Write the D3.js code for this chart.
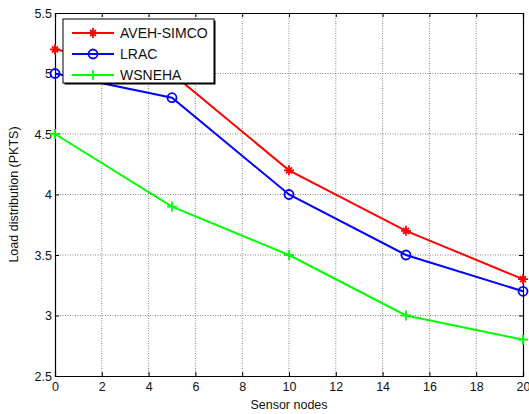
<!DOCTYPE html>
<html>
<head>
<meta charset="utf-8">
<script src="https://cdn.jsdelivr.net/npm/d3@7"></script>
<style>
body { margin: 0; background: #fff; }
svg { font-family: "Liberation Sans", Arial, sans-serif; }
</style>
</head>
<body>
<script>
// data
var nodes = [0, 5, 10, 15, 20]
var aveh = [5.2, 5.0, 4.2, 3.7, 3.3]
var lrac = [5.0, 4.8, 4.0, 3.5, 3.2]
var wsneha = [4.5, 3.9, 3.5, 3.0, 2.8]
var xTicks = [0, 2, 4, 6, 8, 10, 12, 14, 16, 18, 20]
var yTicks = [2.5, 3, 3.5, 4, 4.5, 5, 5.5]

var series = [
    {name: 'AVEH-SIMCO', values: aveh, color: '#ff0000', marker: 'star'},
    {name: 'LRAC', values: lrac, color: '#0000ff', marker: 'circle'},
    {name: 'WSNEHA', values: wsneha, color: '#00ff00', marker: 'plus'},
]

var config = {width: 529, height: 414}
var margin = {left: 55, right: 6, top: 13, bottom: 38}
var w = config.width - margin.left - margin.right
var h = config.height - margin.top - margin.bottom

var svg = d3.select('body').append('svg')
    .attr('width', config.width)
    .attr('height', config.height)

var g = svg.append('g').attr('transform', 'translate(' + margin.left + ',' + margin.top + ')')

var x = d3.scaleLinear().domain([0, 20]).range([0, w])
var y = d3.scaleLinear().domain([2.5, 5.5]).range([h, 0])

// grid (dotted, matlab style)
g.append('g').selectAll('line').data(xTicks.slice(1, -1)).enter().append('line')
    .attr('x1', function(d) { return x(d) }).attr('x2', function(d) { return x(d) })
    .attr('y1', 0).attr('y2', h)
    .attr('stroke', '#777').attr('stroke-width', 0.9).attr('stroke-dasharray', '1,1.5')
g.append('g').selectAll('line').data(yTicks.slice(1, -1)).enter().append('line')
    .attr('y1', function(d) { return y(d) }).attr('y2', function(d) { return y(d) })
    .attr('x1', 0).attr('x2', w)
    .attr('stroke', '#777').attr('stroke-width', 0.9).attr('stroke-dasharray', '1,1.5')

// axes
g.append('g').attr('transform', 'translate(0,' + h + ')')
    .call(d3.axisBottom(x).tickValues(xTicks).tickSize(-4).tickPadding(6).tickFormat(d3.format('d')))
g.append('g')
    .call(d3.axisLeft(y).tickValues(yTicks).tickSize(-4).tickPadding(3).tickFormat(function(d) { return d }))
g.append('g')
    .call(d3.axisTop(x).tickValues(xTicks).tickSize(-4).tickFormat(''))
g.append('g').attr('transform', 'translate(' + w + ',0)')
    .call(d3.axisRight(y).tickValues(yTicks).tickSize(-4).tickFormat(''))

g.selectAll('.domain').attr('stroke', '#000').attr('stroke-width', 1.2)
g.selectAll('.tick line').attr('stroke', '#000')
g.selectAll('.tick text').attr('font-size', 12.5).attr('fill', '#111')
    .attr('font-family', '"Liberation Sans", Arial, sans-serif')

// lines
var line = d3.line()
    .x(function(d, i) { return x(nodes[i]) })
    .y(function(d) { return y(d) })

function drawMarker(sel, type, color) {
    if (type == 'circle') {
        sel.append('circle').attr('r', 4.5).attr('fill', 'none')
            .attr('stroke', color).attr('stroke-width', 1.8)
    } else if (type == 'plus') {
        sel.append('path').attr('d', 'M-5,0H5M0,-5V5')
            .attr('stroke', color).attr('stroke-width', 1.8)
    } else {
        sel.append('path').attr('d', 'M-5,0H5M0,-5V5M-3,-3L3,3M-3,3L3,-3')
            .attr('stroke', color).attr('stroke-width', 1.8)
    }
}

series.forEach(function(s) {
    g.append('path').datum(s.values)
        .attr('d', line)
        .attr('fill', 'none')
        .attr('stroke', s.color)
        .attr('stroke-width', 2)
    s.values.forEach(function(v, i) {
        var m = g.append('g').attr('transform', 'translate(' + x(nodes[i]) + ',' + y(v) + ')')
        drawMarker(m, s.marker, s.color)
    })
})

// legend
var leg = svg.append('g').attr('transform', 'translate(63,19)')
leg.append('rect').attr('x', 1.5).attr('y', 1.5).attr('width', 151).attr('height', 64).attr('fill', '#000')
leg.append('rect').attr('width', 151).attr('height', 64)
    .attr('fill', '#fff').attr('stroke', '#000').attr('stroke-width', 1)
series.forEach(function(s, i) {
    var yy = 14 + i * 21
    leg.append('line').attr('x1', 9).attr('x2', 51).attr('y1', yy).attr('y2', yy)
        .attr('stroke', s.color).attr('stroke-width', 2)
    var m = leg.append('g').attr('transform', 'translate(30,' + yy + ')')
    drawMarker(m, s.marker, s.color)
    leg.append('text').attr('x', 57).attr('y', yy + 5)
        .attr('font-size', 14).attr('fill', '#111').text(s.name)
})

// axis labels
svg.append('text')
    .attr('x', margin.left + w / 2).attr('y', 409)
    .attr('text-anchor', 'middle').attr('font-size', 12.5).attr('fill', '#111')
    .text('Sensor nodes')
svg.append('text')
    .attr('transform', 'translate(18,' + (margin.top + h / 2) + ') rotate(-90)')
    .attr('text-anchor', 'middle').attr('font-size', 12.5).attr('fill', '#111')
    .text('Load distribution (PKTS)')
</script>
</body>
</html>
